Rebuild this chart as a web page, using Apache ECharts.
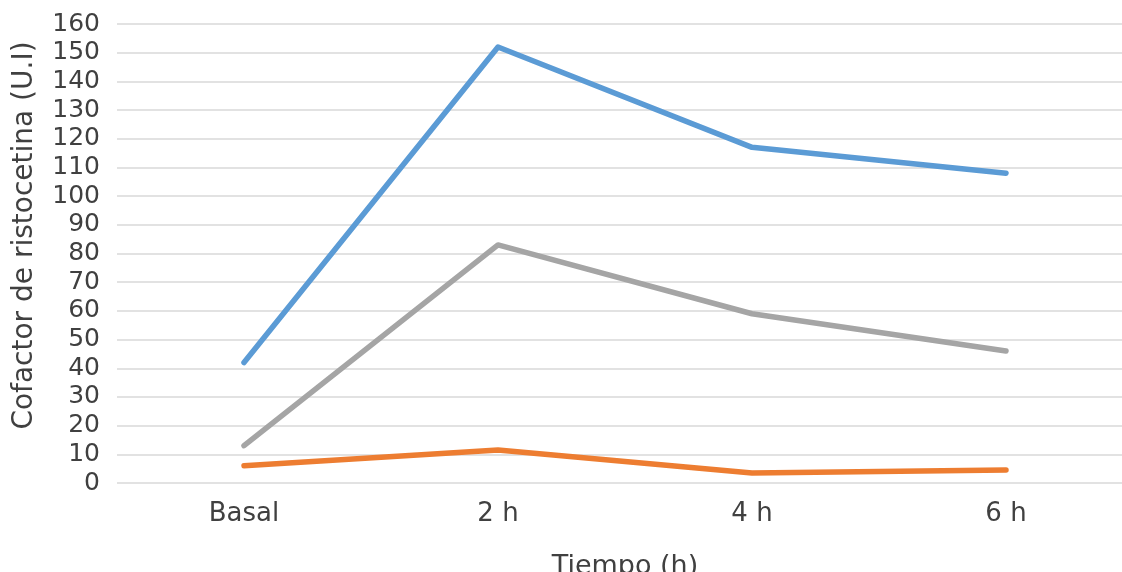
<!DOCTYPE html>
<html>
<head>
<meta charset="utf-8">
<script src="https://cdn.jsdelivr.net/npm/echarts@6/dist/echarts.min.js"></script>
<style>
html,body{margin:0;padding:0;background:#fff;}
#chart{width:1122px;height:572px;}
</style>
</head>
<body>
<div id="chart"></div>
<script>
var categories = ['Basal', '2 h', '4 h', '6 h'];
var seriesBlue = [42, 152, 117, 108];
var seriesOrange = [6, 11.5, 3.5, 4.5];
var seriesGray = [13, 83, 59, 46];
var yTicks = {min: 0, max: 160, interval: 10};

var chart = echarts.init(document.getElementById('chart'));
var font = 'DejaVu Sans';
chart.setOption({
  animation: false,
  backgroundColor: '#ffffff',
  grid: {left: 117, top: 24, width: 1016, height: 459, containLabel: false, outerBoundsMode: 'none'},
  xAxis: {
    type: 'category',
    data: categories,
    boundaryGap: true,
    axisLine: {show: false},
    axisTick: {show: false},
    axisLabel: {color: '#404040', fontFamily: font, fontSize: 26, margin: 18},
    name: 'Tiempo (h)',
    nameLocation: 'middle',
    nameGap: 70,
    nameTextStyle: {color: '#404040', fontFamily: font, fontSize: 27}
  },
  yAxis: {
    type: 'value',
    min: yTicks.min,
    max: yTicks.max,
    interval: yTicks.interval,
    axisLine: {show: false},
    axisTick: {show: false},
    axisLabel: {color: '#404040', fontFamily: font, fontSize: 25, margin: 17},
    splitLine: {lineStyle: {color: '#d9d9d9', width: 1.5}},
    name: 'Cofactor de ristocetina (U.I)',
    nameLocation: 'middle',
    nameGap: 78,
    nameTextStyle: {color: '#404040', fontFamily: font, fontSize: 28, padding: [0, 0, 0, 36]}
  },
  series: [
    {name: 'Serie 1', type: 'line', data: seriesBlue, showSymbol: false, symbol: 'none',
     lineStyle: {color: '#5b9bd5', width: 5.5, cap: 'round', join: 'round'}, itemStyle: {color: '#5b9bd5'}},
    {name: 'Serie 2', type: 'line', data: seriesOrange, showSymbol: false, symbol: 'none',
     lineStyle: {color: '#ed7d31', width: 5.5, cap: 'round', join: 'round'}, itemStyle: {color: '#ed7d31'}},
    {name: 'Serie 3', type: 'line', data: seriesGray, showSymbol: false, symbol: 'none',
     lineStyle: {color: '#a5a5a5', width: 5.5, cap: 'round', join: 'round'}, itemStyle: {color: '#a5a5a5'}}
  ]
});
</script>
</body>
</html>
